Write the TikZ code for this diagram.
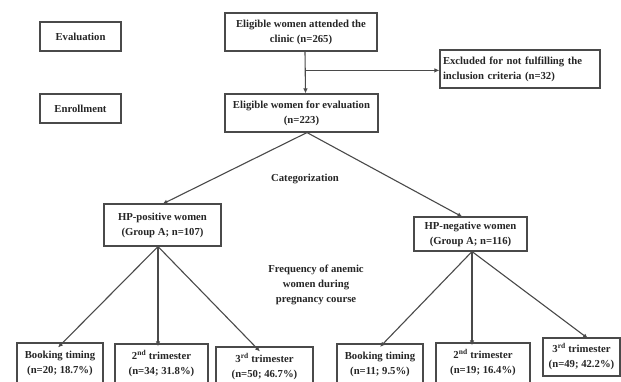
\documentclass[tikz,border=0pt]{standalone}
\usepackage{fontspec}
\setmainfont{Liberation Serif}
\usetikzlibrary{arrows.meta,calc}
\definecolor{linecol}{HTML}{4A4A4A}
\definecolor{txtcol}{HTML}{262626}
\begin{document}
\begin{tikzpicture}[x=1pt,y=-1pt,
  every node/.style={font=\bfseries\fontsize{10.7}{15}\selectfont, text=txtcol},
  box/.style={draw=linecol, line width=1.1pt, rectangle, align=center, inner sep=0pt},
  conn/.style={draw=linecol, line width=1.1pt, -{Latex[length=5pt,width=4.5pt]}},
  plain/.style={draw=linecol, line width=1.1pt}]
\useasboundingbox (0,0) rectangle (621,381);
\clip (0,0) rectangle (621,381);
\fill[white] (0,0) rectangle (621,381);
% left stage labels
\node[box, minimum width=81pt, minimum height=29pt] (eval) at (80.5,36.5) {Evaluation};
\node[box, minimum width=81pt, minimum height=29pt] (enr) at (80.5,108.5) {Enrollment};
% main column
\node[box, minimum width=152pt, minimum height=38pt] (top) at (301,32) {Eligible women attended the\\clinic (n=265)};
\node[box, align=left, text width=154pt, inner xsep=3pt, minimum height=38pt] (excl) at (520,69) {Excluded for not fulfilling the\\inclusion criteria (n=32)};
\node[box, minimum width=153pt, minimum height=38pt] (elig) at (301.5,113) {Eligible women for evaluation\\(n=223)};
\node (cat) at (305,179) {Categorization};
\node[box, minimum width=117pt, minimum height=42pt] (hpp) at (162.5,225) {HP-positive women\\(Group A; n=107)};
\node[box, minimum width=113pt, minimum height=34pt] (hpn) at (470.5,234) {HP-negative women\\(Group A; n=116)};
\node[align=center] (freq) at (316,285) {Frequency of anemic\\women during\\pregnancy course};
% bottom boxes
\node[box, minimum width=86pt, minimum height=40pt] (b1) at (60,363) {Booking timing\\(n=20; 18.7\%)};
\node[box, minimum width=93pt, minimum height=40pt] (b2) at (161.5,364) {2\textsuperscript{nd} trimester\\(n=34; 31.8\%)};
\node[box, minimum width=97pt, minimum height=40pt] (b3) at (264.5,367) {3\textsuperscript{rd} trimester\\(n=50; 46.7\%)};
\node[box, minimum width=86pt, minimum height=40pt] (b4) at (380,364) {Booking timing\\(n=11; 9.5\%)};
\node[box, minimum width=94pt, minimum height=40pt] (b5) at (483,363) {2\textsuperscript{nd} trimester\\(n=19; 16.4\%)};
\node[box, minimum width=77pt, minimum height=38pt] (b6) at (581.5,357) {3\textsuperscript{rd} trimester\\(n=49; 42.2\%)};
% connectors
\coordinate (split) at ($([xshift=4pt]top.south)!0.45!([xshift=4pt]elig.north)$);
\draw[conn] ([xshift=4pt]top.south) -- ([xshift=4pt]elig.north);
\draw[conn] (split) -- (excl.west |- split);
\draw[conn] ([xshift=5.5pt]elig.south) -- ([yshift=-0.5pt]hpp.north);
\draw[conn] ([xshift=5.5pt]elig.south) -- ([xshift=-8pt,yshift=-0.5pt]hpn.north);
\draw[conn] ([xshift=-4.5pt]hpp.south) -- ([xshift=-2pt,yshift=-5pt]b1.north);
\draw[conn] ([xshift=-4.5pt]hpp.south) -- ([xshift=-3.5pt,yshift=-3pt]b2.north);
\draw[conn] ([xshift=-4.5pt]hpp.south) -- ([xshift=-4.5pt,yshift=-5pt]b3.north);
\draw[conn] ([xshift=1.5pt]hpn.south) -- ([yshift=-3.5pt]b4.north);
\draw[conn] ([xshift=1.5pt]hpn.south) -- ([xshift=-11pt,yshift=-3pt]b5.north);
\draw[conn] ([xshift=1.5pt]hpn.south) -- ([xshift=6.5pt,yshift=-1pt]b6.north);
\end{tikzpicture}
\end{document}
